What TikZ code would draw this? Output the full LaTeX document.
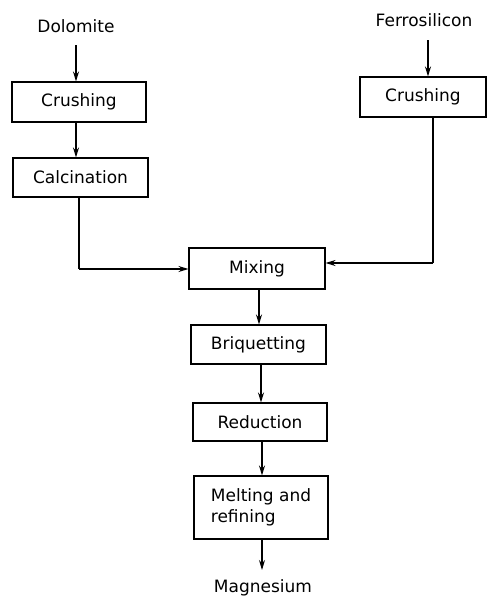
\documentclass[tikz,border=0pt]{standalone}
\usepackage{fontspec}
\setmainfont{DejaVu Sans}
\usetikzlibrary{arrows.meta}
\begin{document}
\begin{tikzpicture}[x=1pt,y=-1pt,
  txt/.style={font=\fontsize{17}{21}\selectfont},
  proc/.style={txt,draw,line width=1.1pt,minimum height=40pt,inner sep=0pt},
  lbl/.style={txt,inner sep=0pt},
  flow/.style={line width=1.1pt,-{Stealth[length=10pt,width=6pt]}},
  line/.style={line width=1.1pt}]
\useasboundingbox (0,0) rectangle (487,600);
\node[lbl] (dol) at (76,26) {Dolomite};
\node[lbl] (fer) at (424,20) {Ferrosilicon};
\node[proc,minimum width=134pt] (cr1) at (79,102) {Crushing};
\node[proc,minimum width=135pt,minimum height=39pt] (cal) at (80.5,177.5) {Calcination};
\node[proc,minimum width=126pt] (cr2) at (423,97) {Crushing};
\node[proc,minimum width=136pt,minimum height=41pt] (mix) at (257,268.5) {Mixing};
\node[proc,minimum width=135pt,minimum height=39pt] (bri) at (258.5,344.5) {Briquetting};
\node[proc,minimum width=134pt,minimum height=38pt] (red) at (260,422) {Reduction};
\node[proc,minimum width=134pt,minimum height=63pt,align=left] (mel) at (261,507.5) {Melting and\\refining};
\node[lbl] (mag) at (263,588) {Magnesium};
\coordinate (d0) at (76,45);
\coordinate (f0) at (428,40);
\coordinate (m0) at (262,570);
\coordinate (lc) at (79,269);
\coordinate (rc) at (433,263);
\draw[flow] (d0) -- (cr1.north -| d0);
\draw[flow] (cr1.south -| d0) -- (cal.north -| d0);
\draw[flow] (f0) -- (cr2.north -| f0);
\draw[line] (cal.south -| lc) -- (lc);
\draw[flow] (lc) -- (mix.west |- lc);
\draw[line] (cr2.south -| rc) -- (rc);
\draw[flow] (rc) -- (mix.east |- rc);
\draw[flow] (mix.south -| 259,0) -- (bri.north -| 259,0);
\draw[flow] (bri.south -| 261,0) -- (red.north -| 261,0);
\draw[flow] (red.south -| 262,0) -- (mel.north -| 262,0);
\draw[flow] (mel.south -| m0) -- (m0);
\end{tikzpicture}
\end{document}
